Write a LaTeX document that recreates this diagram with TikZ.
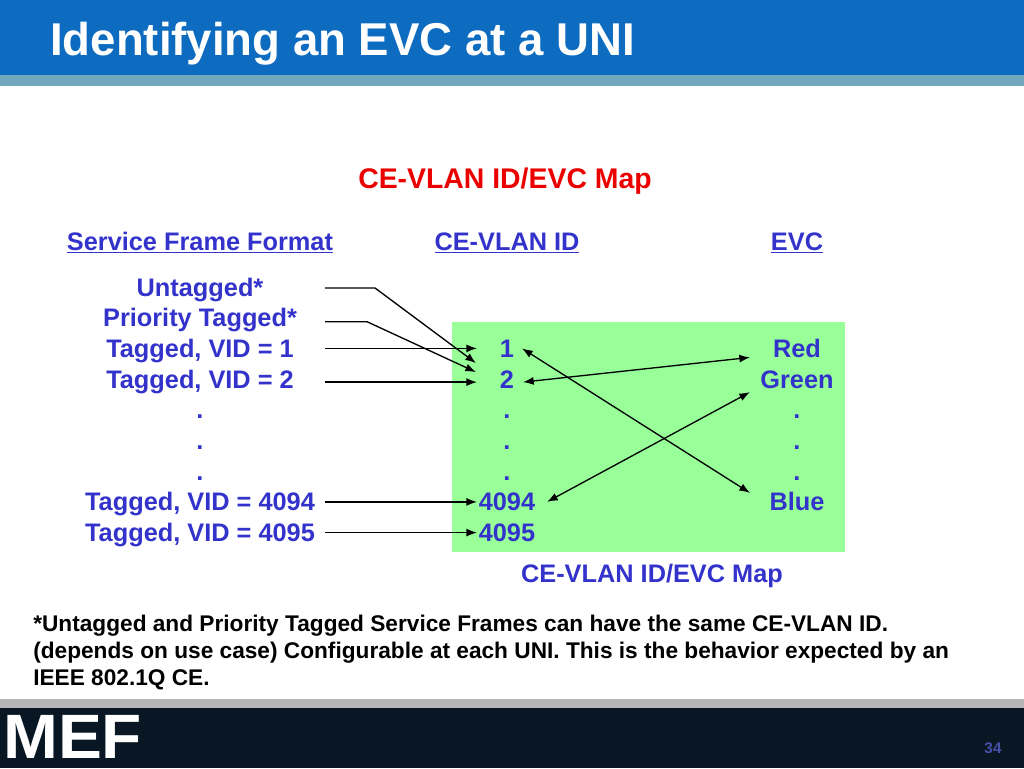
\documentclass[tikz,border=0pt]{standalone}
\usepackage{fontspec}
\setmainfont{Liberation Sans}
\usetikzlibrary{arrows.meta,calc}
\definecolor{headblue}{RGB}{13,108,192}
\definecolor{headstrip}{RGB}{112,167,188}
\definecolor{footgrey}{RGB}{181,181,181}
\definecolor{footdark}{RGB}{9,23,36}
\definecolor{txtblue}{RGB}{51,51,204}
\definecolor{txtred}{RGB}{235,0,0}
\definecolor{mapgreen}{RGB}{153,255,153}
\definecolor{pagenum}{RGB}{70,80,170}

\begin{document}
\begin{tikzpicture}[x=0.75pt,y=-0.75pt,
  entry/.style={font=\bfseries\fontsize{19}{23}\selectfont,text=txtblue,
    inner sep=0pt,text height=13.5pt,text depth=0pt},
  colhead/.style={font=\bfseries\fontsize{19}{23}\selectfont,text=txtblue,
    inner sep=0pt,anchor=base},
  note/.style={font=\bfseries\fontsize{17}{20}\selectfont,inner sep=0pt,
    anchor=base west},
  link/.style={-{Latex[length=8pt,width=6pt]},line width=1pt},
  both/.style={{Latex[length=8pt,width=6pt]}-{Latex[length=8pt,width=6pt]},
    line width=1pt}]
\useasboundingbox (0,0) rectangle (1024,768);
% header and footer bands
\fill[headblue] (0,0) rectangle (1024,75);
\fill[headstrip] (0,75) rectangle (1024,86);
\fill[footgrey] (0,699) rectangle (1024,708);
\fill[footdark] (0,708) rectangle (1024,768);
\node[font=\bfseries\fontsize{34.5}{40}\selectfont,text=white,inner sep=0pt,
  anchor=base west,xscale=0.99] (title) at (50,55) {Identifying an EVC at a UNI};
\node[font=\bfseries\fontsize{47}{50}\selectfont,text=white,inner sep=0pt,
  anchor=base west,xscale=1.05] (logo) at (3,758) {MEF};
\node[font=\bfseries\fontsize{11.5}{13}\selectfont,text=pagenum,inner sep=0pt] (page) at (993,748.5) {34};
% map area
\fill[mapgreen] (452,322) rectangle (845,552);
\node[font=\bfseries\fontsize{21.3}{25}\selectfont,text=txtred,inner sep=0pt,
  anchor=base] (maptitle) at (505,188) {CE-VLAN ID/EVC Map};
\node[colhead] (hsff) at (200,250) {\underline{Service Frame Format}};
\node[colhead] (hid) at (507,250) {\underline{CE-VLAN ID}};
\node[colhead] (hevc) at (797,250) {\underline{EVC}};
% columns
\foreach \t [count=\i from 0] in {Untagged*,Priority Tagged*,{Tagged, VID = 1},
  {Tagged, VID = 2},.,.,.,{Tagged, VID = 4094},{Tagged, VID = 4095}}
  \node[entry] (f\i) at (200,287+30.7*\i) {\t};
\foreach \t [count=\i from 2] in {1,2,.,.,.,4094,4095}
  \node[entry] (c\i) at (507,287+30.7*\i) {\t};
\foreach \t [count=\i from 2] in {Red,Green,.,.,.,Blue}
  \node[entry] (e\i) at (797,287+30.7*\i) {\t};
\node[colhead] (maplabel) at (652,582) {CE-VLAN ID/EVC Map};
% connectors
\coordinate (lx) at (325,0);
\coordinate (ax) at (477,0);
\draw[link] ($(f0 -| lx)+(0,1)$) -- ++(50,0) -- ($(c3)+(-31,-16)$);
\draw[link] ($(f1 -| lx)+(0,4)$) -- ++(42,0) -- ($(c3)+(-31,-7)$);
\draw[link] (f2 -| lx) -- (c2 -| ax);
\draw[link] ($(f3 -| lx)+(0,3)$) -- ($(c3 -| ax)+(0,3)$);
\draw[link] (f7 -| lx) -- (c7 -| ax);
\draw[link] (f8 -| lx) -- (c8 -| ax);
\draw[both] ($(c2)+(15,0)$) -- ($(e7)+(-47,-9)$);
\draw[both] ($(c3)+(16,3)$) -- ($(e2)+(-47,9)$);
\draw[both] ($(c7)+(40,0)$) -- ($(e3)+(-47,13)$);
% footnote
\node[note] (n1) at (33,631) {*Untagged and Priority Tagged Service Frames can have the same CE-VLAN ID.};
\node[note] (n2) at (33,658) {(depends on use case) Configurable at each UNI. This is the behavior expected by an};
\node[note] (n3) at (33,685) {IEEE 802.1Q CE.};
\end{tikzpicture}
\end{document}
